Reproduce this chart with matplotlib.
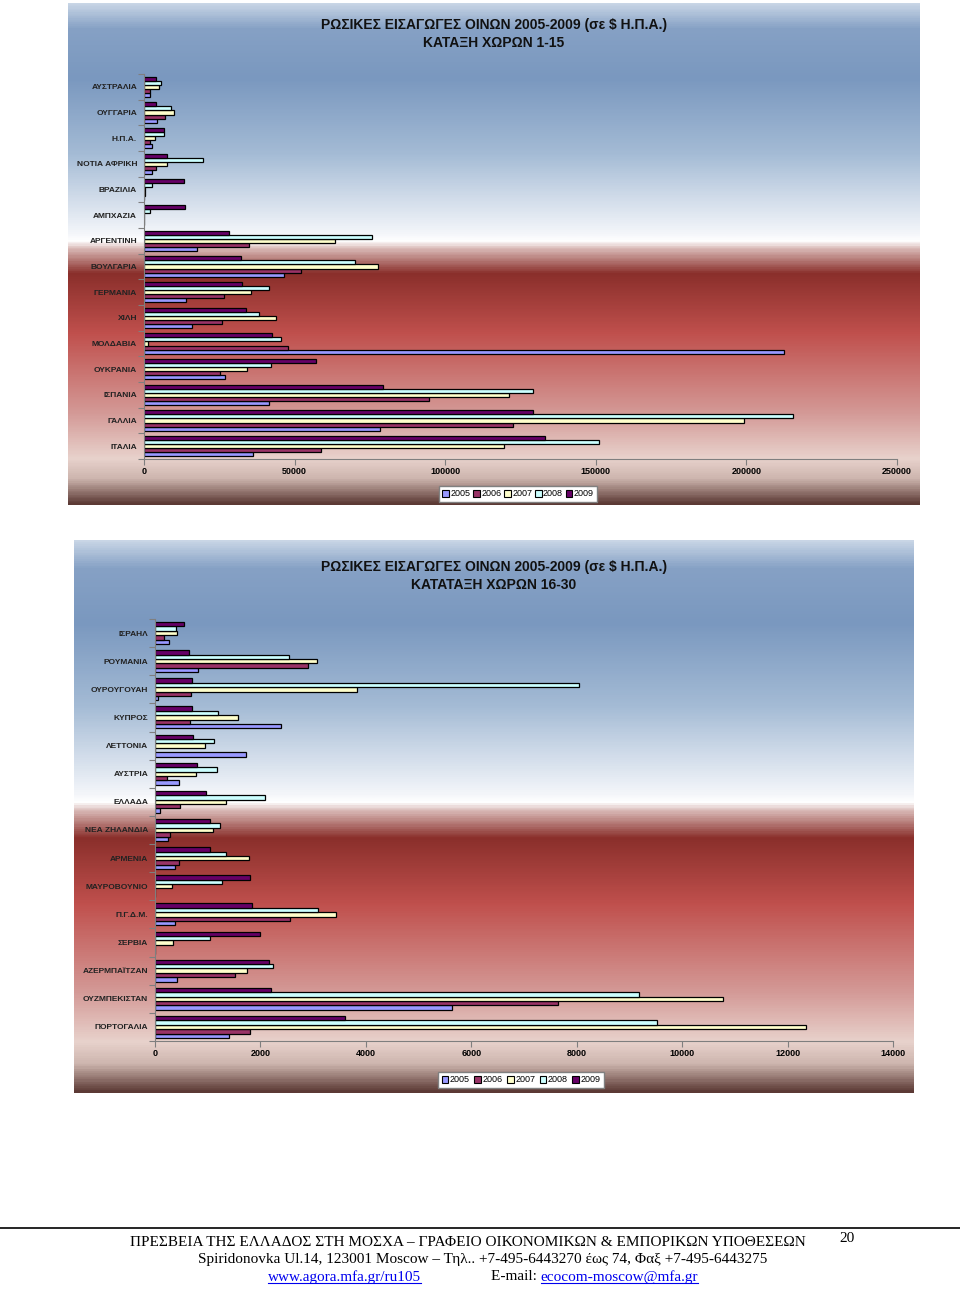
import matplotlib.pyplot as plt
import numpy as np
from matplotlib.colors import LinearSegmentedColormap
from matplotlib.patches import Patch
from matplotlib.lines import Line2D

# --- data: Russian wine imports 2005-2009 (USD) ---
years = ['2005', '2006', '2007', '2008', '2009']
year_colors = ['#9999ff', '#993366', '#ffffcc', '#ccffff', '#660066']

# ranks 1-15 (top to bottom as in the chart)
countries_a = ['ΑΥΣΤΡΑΛΙΑ', 'ΟΥΓΓΑΡΙΑ', 'Η.Π.Α.', 'ΝΟΤΙΑ ΑΦΡΙΚΗ', 'ΒΡΑΖΙΛΙΑ',
               'ΑΜΠΧΑΖΙΑ', 'ΑΡΓΕΝΤΙΝΗ', 'ΒΟΥΛΓΑΡΙΑ', 'ΓΕΡΜΑΝΙΑ', 'ΧΙΛΗ',
               'ΜΟΛΔΑΒΙΑ', 'ΟΥΚΡΑΝΙΑ', 'ΙΣΠΑΝΙΑ', 'ΓΑΛΛΙΑ', 'ΙΤΑΛΙΑ']
a_2005 = [1900, 4400, 2550, 2650, 0, 0, 17700, 46600, 13800, 15800,
          212400, 27000, 41500, 78200, 36100]
a_2006 = [2100, 7100, 2100, 4100, 200, 0, 34800, 52200, 26700, 25900,
          47800, 25100, 94600, 122600, 58900]
a_2007 = [5000, 10100, 3650, 7750, 300, 0, 63500, 77800, 35500, 43900,
          1300, 34200, 121300, 199200, 119500]
a_2008 = [5760, 9000, 6750, 19600, 2800, 2100, 75800, 69900, 41500, 38300,
          45400, 42200, 129000, 215600, 151100]
a_2009 = [3900, 3900, 6500, 7500, 13400, 13600, 28100, 32100, 32700, 33900,
          42400, 57000, 79300, 129100, 133000]

# ranks 16-30
countries_b = ['ΙΣΡΑΗΛ', 'ΡΟΥΜΑΝΙΑ', 'ΟΥΡΟΥΓΟΥΑΗ', 'ΚΥΠΡΟΣ', 'ΛΕΤΤΟΝΙΑ',
               'ΑΥΣΤΡΙΑ', 'ΕΛΛΑΔΑ', 'ΝΕΑ ΖΗΛΑΝΔΙΑ', 'ΑΡΜΕΝΙΑ', 'ΜΑΥΡΟΒΟΥΝΙΟ',
               'Π.Γ.Δ.Μ.', 'ΣΕΡΒΙΑ', 'ΑΖΕΡΜΠΑΪΤΖΑΝ', 'ΟΥΖΜΠΕΚΙΣΤΑΝ', 'ΠΟΡΤΟΓΑΛΙΑ']
b_2005 = [263, 825, 54, 2392, 1735, 446, 86, 244, 376, 0,
          370, 0, 414, 5639, 1412]
b_2006 = [174, 2903, 692, 661, 0, 225, 465, 282, 446, 0,
          2569, 0, 1520, 7640, 1798]
b_2007 = [414, 3080, 3838, 1583, 945, 787, 1349, 1097, 1785, 326,
          3434, 345, 1747, 10780, 12346]
b_2008 = [389, 2550, 8040, 1198, 1122, 1185, 2095, 1236, 1343, 1280,
          3099, 1052, 2234, 9188, 9517]
b_2009 = [553, 642, 699, 705, 724, 806, 964, 1046, 1052, 1798,
          1848, 1987, 2171, 2196, 3611]

W, H = 960, 1292
plt.rcParams['font.family'] = ['Liberation Sans', 'DejaVu Sans']
fig = plt.figure(figsize=(W / 100, H / 100), dpi=100)
fig.patch.set_facecolor('white')

bg_cmap = LinearSegmentedColormap.from_list('bg', [
    (0.00, '#c9d6e6'), (0.05, '#86a1c5'), (0.15, '#7a98bf'),
    (0.30, '#a4bbd5'), (0.46, '#f4f6fa'), (0.475, '#ffffff'),
    (0.49, '#d9b9b6'), (0.54, '#8a2f2b'), (0.66, '#c0504d'),
    (0.82, '#d49a97'), (0.91, '#e8d2cc'), (0.95, '#cdb5ae'),
    (1.00, '#5c3a35')])


def px_rect(x0, y0, x1, y1):
    return [x0 / W, 1 - y1 / H, (x1 - x0) / W, (y1 - y0) / H]


def draw_panel(panel, plot, cats, series, xmax, xstep, title, title_y,
               legend_x, legend_y, colsp):
    bg = fig.add_axes(px_rect(*panel), zorder=0)
    bg.imshow(np.linspace(0, 1, 600).reshape(-1, 1), aspect='auto', cmap=bg_cmap,
              extent=[0, 1, 0, 1], origin='upper')
    bg.axis('off')

    ax = fig.add_axes(px_rect(*plot), zorder=1)
    ax.set_facecolor('none')
    n = len(cats)
    ypos = np.arange(n)[::-1]
    h = 0.156
    for k, vals in enumerate(series):
        ax.barh(ypos + (k - 2) * h, vals, height=h, color=year_colors[k],
                edgecolor='black', linewidth=0.9)
    ax.set_xlim(0, xmax)
    ax.set_ylim(-0.5, n - 0.5)
    ax.set_xticks(np.arange(0, xmax + 1, xstep))
    ax.set_xticklabels([str(int(t)) for t in np.arange(0, xmax + 1, xstep)],
                       fontsize=6.5, fontweight='bold')
    ax.set_yticks(np.arange(n + 1) - 0.5)
    ax.set_yticklabels([])
    ax.set_yticks(ypos, minor=True)
    ax.set_yticklabels(cats, minor=True, fontsize=6, fontweight='bold', color='#222222')
    ax.tick_params(axis='y', which='minor', length=0, pad=5)
    ax.tick_params(axis='y', which='major', length=4, color='#7f7f7f', direction='out')
    ax.tick_params(axis='x', length=4, color='#7f7f7f', direction='out', pad=2)
    for s in ['top', 'right']:
        ax.spines[s].set_visible(False)
    for s in ['left', 'bottom']:
        ax.spines[s].set_color('#7f7f7f')
        ax.spines[s].set_linewidth(0.8)

    cx = (panel[0] + panel[2]) / 2 / W
    fig.text(cx, 1 - title_y / H, title, ha='center', va='center', fontsize=10,
             fontweight='bold', color='#111111', linespacing=1.3)

    handles = [Patch(facecolor=c, edgecolor='black', linewidth=0.8) for c in year_colors]
    fig.legend(handles, years, loc='center', bbox_to_anchor=(legend_x / W, 1 - legend_y / H),
               ncol=5, fontsize=6.5, handlelength=0.75, handleheight=0.75,
               handletextpad=0.15, columnspacing=colsp, borderpad=0.35,
               fancybox=False, framealpha=1, edgecolor='#808080')


draw_panel((68, 3, 920, 505), (144, 74, 897, 459), countries_a,
           [a_2005, a_2006, a_2007, a_2008, a_2009], 250000, 50000,
           'ΡΩΣΙΚΕΣ ΕΙΣΑΓΩΓΕΣ ΟΙΝΩΝ 2005-2009 (σε $ Η.Π.Α.)\nΚΑΤΑΞΗ ΧΩΡΩΝ 1-15',
           34, 518, 494, 0.3)
draw_panel((74, 540, 914, 1093), (155, 619, 893, 1041), countries_b,
           [b_2005, b_2006, b_2007, b_2008, b_2009], 14000, 2000,
           'ΡΩΣΙΚΕΣ ΕΙΣΑΓΩΓΕΣ ΟΙΝΩΝ 2005-2009 (σε $ Η.Π.Α.)\nΚΑΤΑΤΑΞΗ ΧΩΡΩΝ 16-30',
           576, 521, 1080, 0.5)

# --- footer ---
fig.add_artist(Line2D([0, 1], [1 - 1228 / H] * 2, color='black', linewidth=1.2))
serif = ['Liberation Serif', 'DejaVu Serif']
fs = 11
fig.text(468 / W, 1 - 1242 / H,
         'ΠΡΕΣΒΕΙΑ ΤΗΣ ΕΛΛΑΔΟΣ ΣΤΗ ΜΟΣΧΑ – ΓΡΑΦΕΙΟ ΟΙΚΟΝΟΜΙΚΩΝ & ΕΜΠΟΡΙΚΩΝ ΥΠΟΘΕΣΕΩΝ',
         ha='center', va='center', fontsize=fs, family=serif)
fig.text(847 / W, 1 - 1238 / H, '20', ha='center', va='center', fontsize=fs, family=serif)
fig.text(483 / W, 1 - 1260 / H,
         'Spiridonovka Ul.14, 123001 Moscow – Τηλ.. +7-495-6443270 έως 74, Φαξ +7-495-6443275',
         ha='center', va='center', fontsize=fs, family=serif)
links = [fig.text(268 / W, 1 - 1277 / H, 'www.agora.mfa.gr/ru105', ha='left', va='center',
                  fontsize=fs, family=serif, color='#0000ee')]
mail = fig.text(491 / W, 1 - 1277 / H, 'E-mail: ', ha='left', va='center',
                fontsize=fs, family=serif)
renderer = fig.canvas.get_renderer()
mb = mail.get_window_extent(renderer)
links.append(fig.text(mb.x1 / W, 1 - 1277 / H, 'ecocom-moscow@mfa.gr', ha='left',
                      va='center', fontsize=fs, family=serif, color='#0000ee'))
for t in links:
    bb = t.get_window_extent(renderer)
    yline = (bb.y0 + 1) / H
    fig.add_artist(Line2D([bb.x0 / W, bb.x1 / W], [yline, yline], color='#0000ee',
                          linewidth=0.8))

fig.savefig('out.png', dpi=100, facecolor='white')
